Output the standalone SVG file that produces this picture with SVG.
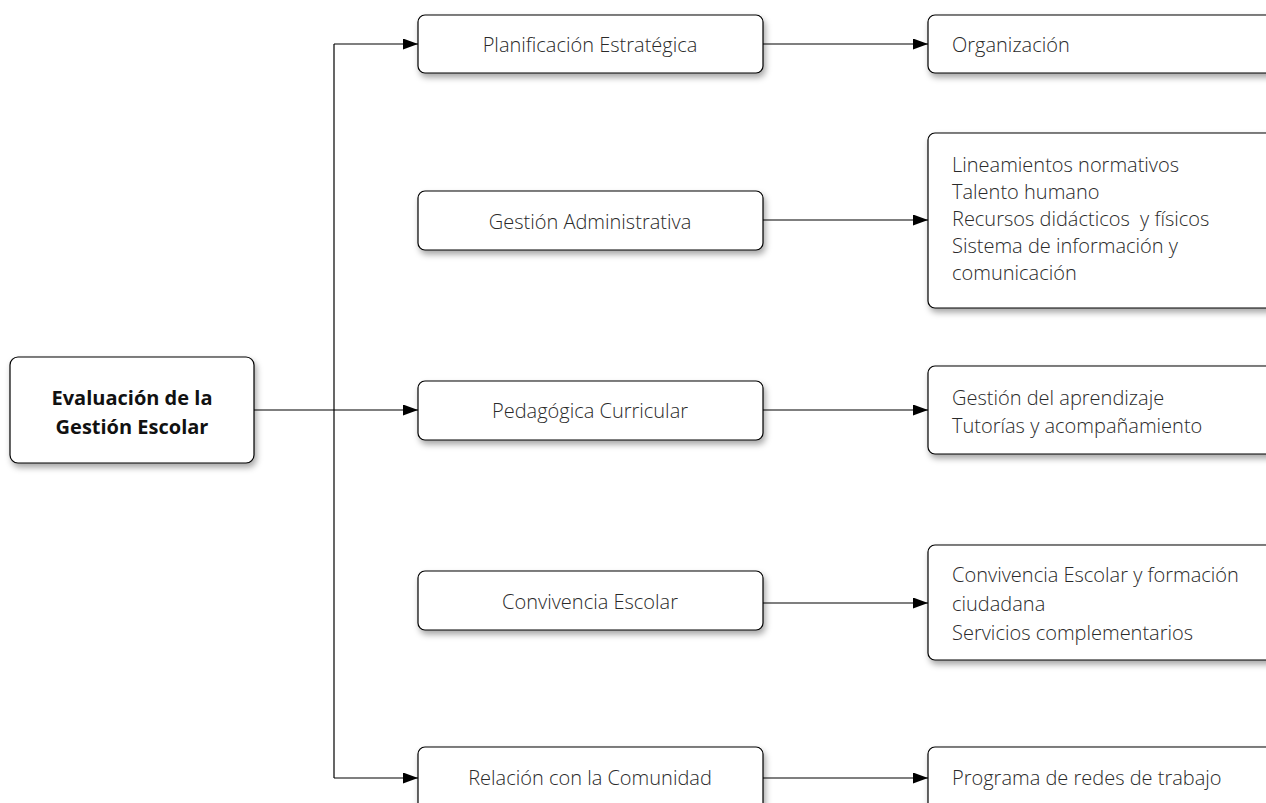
<svg xmlns="http://www.w3.org/2000/svg" width="1266" height="803" viewBox="0 0 1266 803">
  <style>
    .box { fill: #ffffff; stroke: #000000; stroke-width: 1.2; filter: url(#shadow); }
    .t { font-family: "Open Sans", "Noto Sans", "Liberation Sans", sans-serif; font-size: 20px; font-weight: 300; fill: #2a2a2a; }
    .c { text-anchor: middle; }
    .b { font-weight: bold; fill: #111111; }
    .edge { fill: none; stroke: #000000; stroke-width: 1.2; }
  </style>
  <defs>
    <filter id="shadow" x="-10%" y="-20%" width="130%" height="160%">
      <feDropShadow dx="2" dy="4" stdDeviation="3" flood-color="#000000" flood-opacity="0.35"/>
    </filter>
    <marker id="arrow" viewBox="0 0 15 11" refX="15" refY="5.5" markerWidth="15" markerHeight="11" markerUnits="userSpaceOnUse" orient="auto">
      <path d="M0,0 L15,5.5 L0,11 Z" fill="#000000"/>
    </marker>
  </defs>
  <rect width="1266" height="803" fill="#ffffff"/>

  <g id="connectors">
    <path class="edge" d="M254,410 H418" marker-end="url(#arrow)"/>
    <path class="edge" d="M334,44 V778"/>
    <path class="edge" d="M334,44 H418" marker-end="url(#arrow)"/>
    <path class="edge" d="M334,778 H418" marker-end="url(#arrow)"/>
    <path class="edge" d="M763,44 H928" marker-end="url(#arrow)"/>
    <path class="edge" d="M763,220 H928" marker-end="url(#arrow)"/>
    <path class="edge" d="M763,410 H928" marker-end="url(#arrow)"/>
    <path class="edge" d="M763,603 H928" marker-end="url(#arrow)"/>
    <path class="edge" d="M763,778 H928" marker-end="url(#arrow)"/>
  </g>

  <g id="root">
    <rect class="box" x="10" y="357" width="244" height="106" rx="8"/>
    <text class="t c b" x="132" y="405">Evaluación de la</text>
    <text class="t c b" x="132" y="434">Gestión Escolar</text>
  </g>

  <g id="planificacion">
    <rect class="box" x="418" y="15" width="345" height="58" rx="7"/>
    <text class="t c" x="590" y="52">Planificación Estratégica</text>
  </g>
  <g id="administrativa">
    <rect class="box" x="418" y="191" width="345" height="59" rx="7"/>
    <text class="t c" x="590" y="229">Gestión Administrativa</text>
  </g>
  <g id="pedagogica">
    <rect class="box" x="418" y="381" width="345" height="59" rx="7"/>
    <text class="t c" x="590" y="418">Pedagógica Curricular</text>
  </g>
  <g id="convivencia">
    <rect class="box" x="418" y="571" width="345" height="59" rx="7"/>
    <text class="t c" x="590" y="609">Convivencia Escolar</text>
  </g>
  <g id="comunidad">
    <rect class="box" x="418" y="747" width="345" height="64" rx="7"/>
    <text class="t c" x="590" y="785">Relación con la Comunidad</text>
  </g>

  <g id="organizacion">
    <rect class="box" x="928" y="15" width="350" height="58" rx="7"/>
    <text class="t" x="952" y="52">Organización</text>
  </g>
  <g id="lineamientos">
    <rect class="box" x="928" y="133" width="350" height="175" rx="7"/>
    <text class="t" x="952" y="172">Lineamientos normativos</text>
    <text class="t" x="952" y="199">Talento humano</text>
    <text class="t" x="952" y="226" xml:space="preserve">Recursos didácticos  y físicos</text>
    <text class="t" x="952" y="253">Sistema de información y</text>
    <text class="t" x="952" y="280">comunicación</text>
  </g>
  <g id="aprendizaje">
    <rect class="box" x="928" y="366" width="350" height="88" rx="7"/>
    <text class="t" x="952" y="405">Gestión del aprendizaje</text>
    <text class="t" x="952" y="433">Tutorías y acompañamiento</text>
  </g>
  <g id="formacion">
    <rect class="box" x="928" y="545" width="350" height="115" rx="7"/>
    <text class="t" x="952" y="582">Convivencia Escolar y formación</text>
    <text class="t" x="952" y="611">ciudadana</text>
    <text class="t" x="952" y="640">Servicios complementarios</text>
  </g>
  <g id="redes">
    <rect class="box" x="928" y="747" width="350" height="64" rx="7"/>
    <text class="t" x="952" y="785">Programa de redes de trabajo</text>
  </g>
</svg>
